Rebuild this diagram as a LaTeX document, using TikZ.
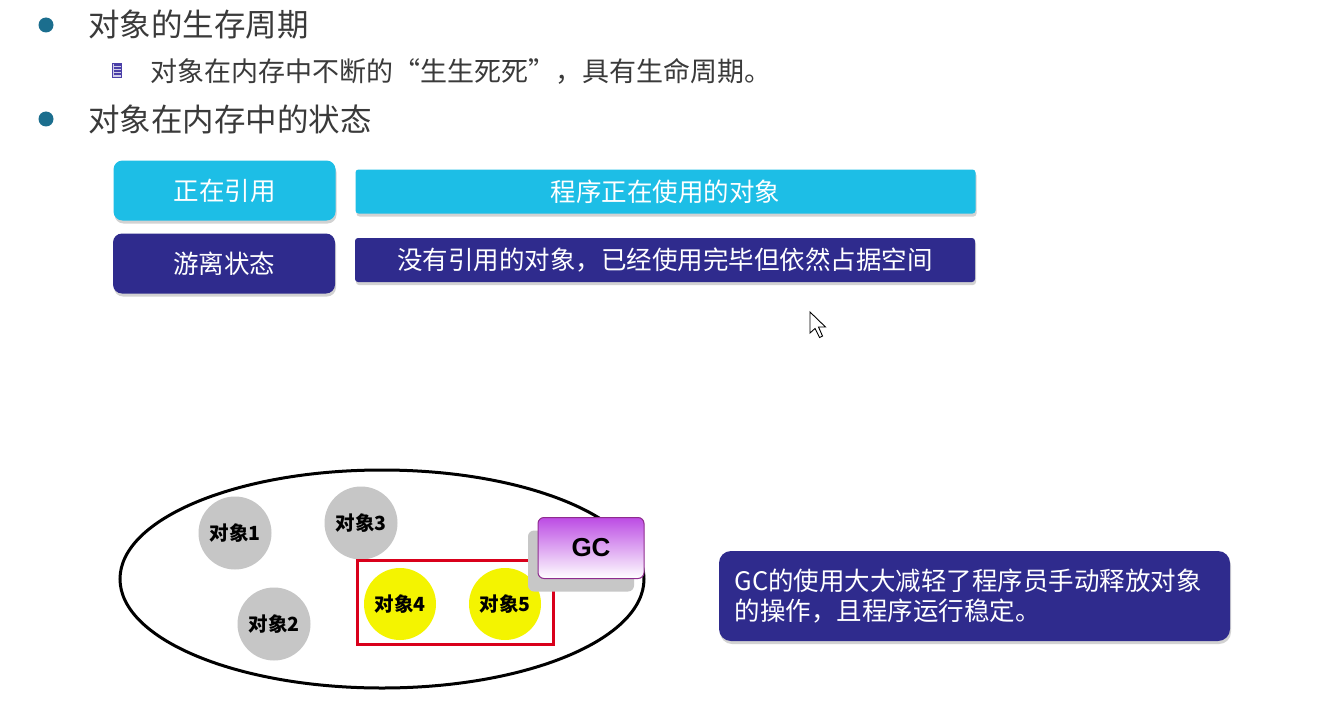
\documentclass[tikz,border=0pt]{standalone}
\usepackage{fontspec}
\setmainfont{Noto Sans CJK SC}
\newfontfamily\gcfont{Liberation Sans}
\usetikzlibrary{shadows}
\definecolor{bulletteal}{HTML}{1B6E8E}
\definecolor{bodygray}{HTML}{3A3A3A}
\definecolor{refcyan}{HTML}{1DBEE6}
\definecolor{strayindigo}{HTML}{2F2B8D}
\definecolor{objgray}{HTML}{C6C6C6}
\definecolor{objyellow}{HTML}{F4F400}
\definecolor{gcred}{HTML}{D9001B}
\definecolor{gcpurple}{HTML}{BC4CE4}
\definecolor{gcborder}{HTML}{8E2C8E}
\definecolor{iconblue}{HTML}{4A3FA8}

\begin{document}
\begin{tikzpicture}[x=1pt,y=-1pt,
  bullettext/.style={anchor=west,inner sep=0pt,text=bodygray},
  bigfont/.style={font=\fontsize{31.5}{37}\selectfont},
  subfont/.style={font=\fontsize{27}{32}\selectfont},
  statebox/.style={rounded corners=9pt,text=white,inner sep=0pt,
    minimum width=222pt,minimum height=60pt,font=\fontsize{25.5}{30}\selectfont,
    drop shadow={shadow xshift=1pt,shadow yshift=-3pt,opacity=0.35}},
  descbox/.style={rounded corners=3pt,text=white,inner sep=0pt,
    minimum width=620pt,minimum height=44pt,font=\fontsize{25.5}{30}\selectfont,
    drop shadow={shadow xshift=1pt,shadow yshift=-3pt,opacity=0.35}},
  objcircle/.style={circle,minimum size=73pt,inner sep=0pt,
    font=\fontsize{19.5}{22}\selectfont\bfseries,text=black},
]
\useasboundingbox (0,0) rectangle (1343,706);
\fill[white] (0,0) rectangle (1343,706);

% --- bullet list ---
\fill[bulletteal] (46,25) circle (7.5);
\node[bullettext,bigfont] (t1) at (88,25) {对象的生存周期};
% small list icon
\node[draw=iconblue,fill=iconblue!25,minimum width=9pt,minimum height=14pt,inner sep=0pt] (icon) at (117,70) {};
\foreach \yy in {65,68,71,74}
  \draw[iconblue,line width=1.2pt] (113.5,\yy) -- (120.5,\yy);
\node[bullettext,subfont] (t2) at (150,71) {对象在内存中不断的“生生死死”，具有生命周期。};
\fill[bulletteal] (46,119) circle (7.5);
\node[bullettext,bigfont] (t3) at (88,119) {对象在内存中的状态};

% --- object states ---
\node[statebox,fill=refcyan] (ref) at (224.5,190.5) {正在引用};
\node[descbox,fill=refcyan] (refd) at (665.5,191.5) {程序正在使用的对象};
\node[statebox,fill=strayindigo] (stray) at (224,263.5) {游离状态};
\node[descbox,fill=strayindigo] (strayd) at (665,260) {没有引用的对象，已经使用完毕但依然占据空间};

% --- mouse pointer ---
\draw[black,line width=0.9pt,fill=white,line join=miter]
  (810,312) -- (810,333) -- (815,328.5) -- (819.5,337.5) -- (822.5,336)
  -- (818.5,327) -- (825.5,327) -- cycle;

% --- memory heap ---
\draw[black,line width=3pt] (382,579) ellipse [x radius=262,y radius=109];
\node[objcircle,fill=objgray] (o1) at (235,533) {对象1};
\node[objcircle,fill=objgray] (o3) at (361,523) {对象3};
\node[objcircle,fill=objgray] (o2) at (274,624) {对象2};
\node[draw=gcred,line width=3pt,minimum width=196pt,minimum height=84pt,inner sep=0pt] (garbage) at (455,602) {};
\node[objcircle,fill=objyellow,minimum size=72pt] (o4) at (400,604) {对象4};
\node[objcircle,fill=objyellow,minimum size=72pt] (o5) at (505,604) {对象5};

% GC box
\node[rounded corners=6pt,draw=gcborder,line width=1pt,top color=gcpurple,bottom color=white,
  minimum width=106pt,minimum height=61pt,inner sep=0pt,
  drop shadow={shadow xshift=-10pt,shadow yshift=-13pt,opacity=1,fill=black!22},
  font=\gcfont\bfseries\fontsize{26}{30}\selectfont] (gc) at (591,548) {GC};

% --- note ---
\node[rounded corners=12pt,fill=strayindigo,text=white,minimum width=511pt,minimum height=90pt,
  inner sep=0pt,text width=480pt,align=left,font=\fontsize{25.5}{30}\selectfont,
  drop shadow={shadow xshift=1pt,shadow yshift=-3pt,opacity=0.35}]
  (note) at (974.5,596) {GC的使用大大减轻了程序员手动释放对象\\的操作，且程序运行稳定。};
\end{tikzpicture}
\end{document}
